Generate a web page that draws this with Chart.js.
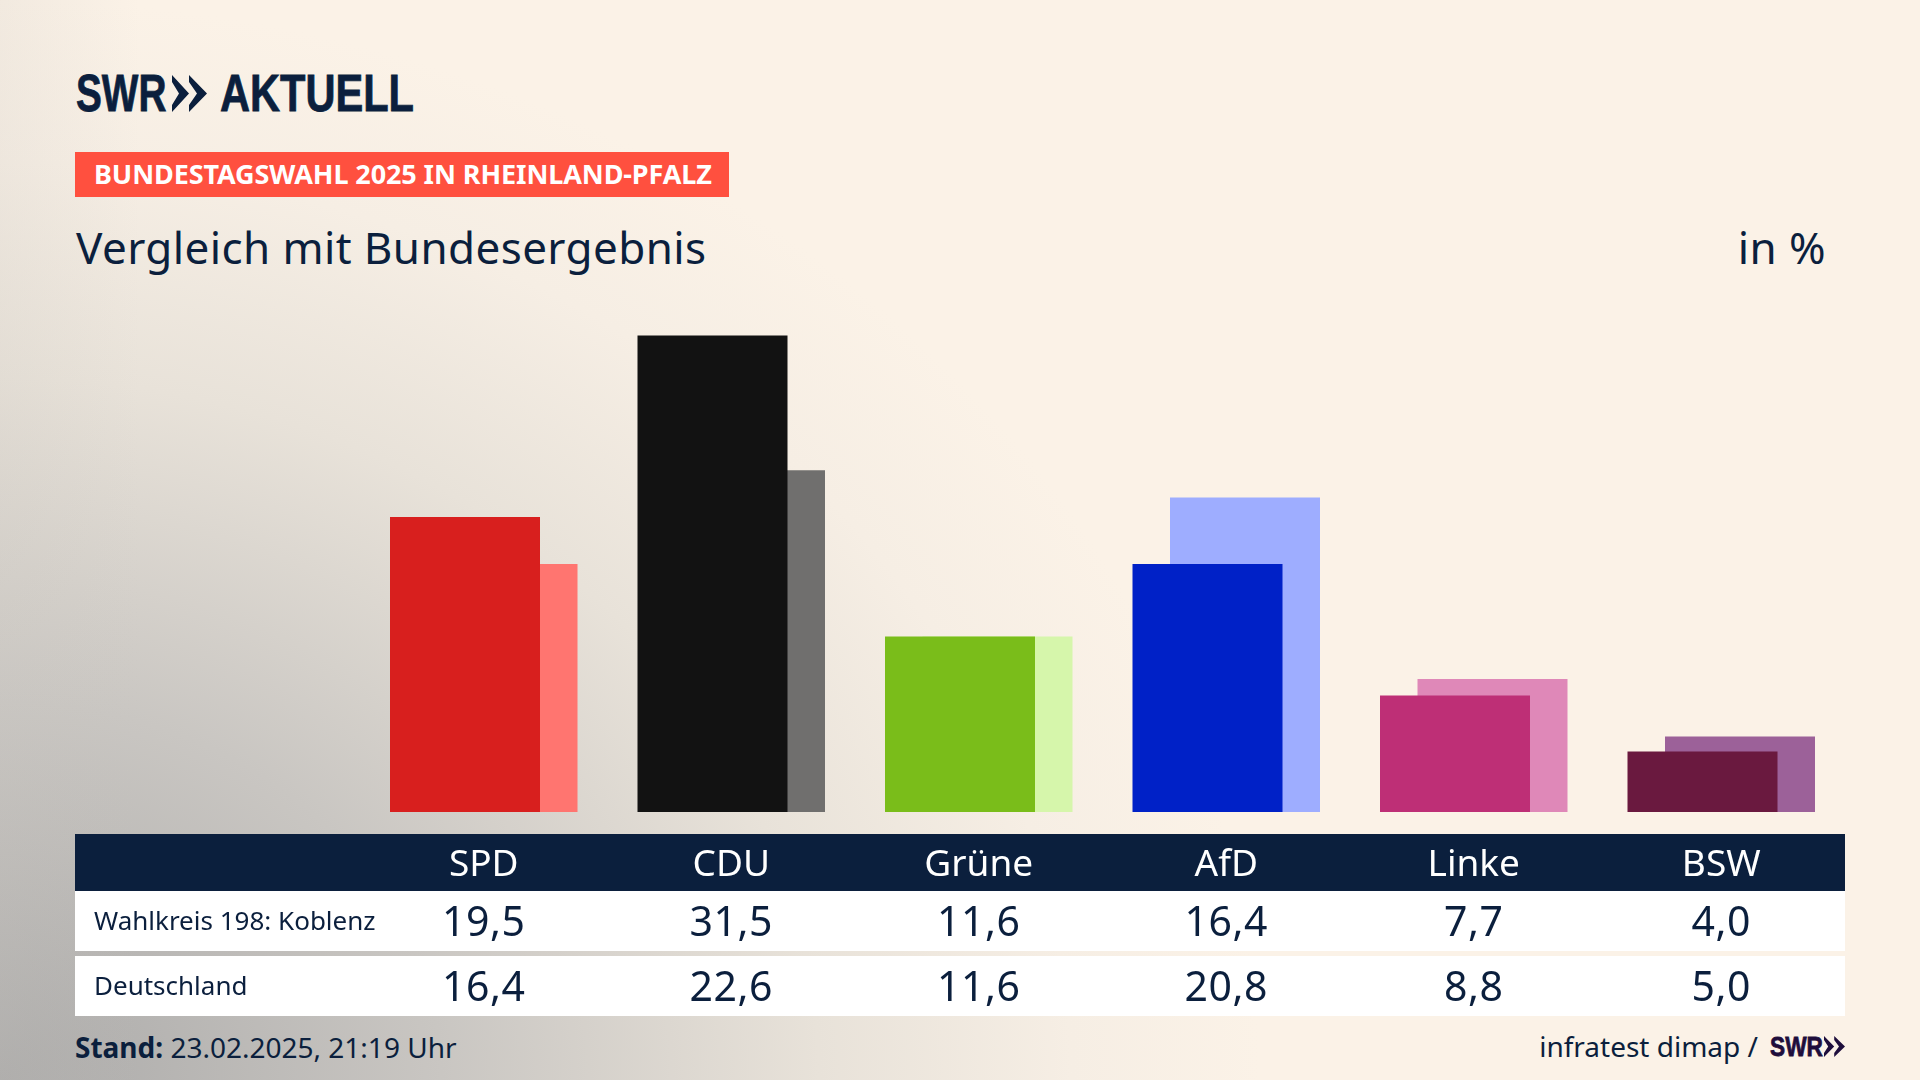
<!DOCTYPE html>
<html lang="de">
<head>
<meta charset="utf-8">
<title>Vergleich mit Bundesergebnis</title>
<script src="https://cdn.jsdelivr.net/npm/chart.js@4"></script>
<style>
  html, body { margin: 0; width: 1920px; height: 1080px; overflow: hidden; }
  body {
    position: relative;
    font-family: "Noto Sans", sans-serif;
    color: #0b1f3d;
    background:
      linear-gradient(90deg, rgba(200,196,190,.18) 0, rgba(251,242,231,0) 140px),
      radial-gradient(ellipse 1260px 1080px at 0 1080px, #abaaa9 0%, #c9c6c2 35%, #e8e2d9 65%, #f6eee4 85%, #fbf2e7 100%);
  }
  .t { position: absolute; white-space: nowrap; line-height: 1; }
  .logo { font-family: "Liberation Sans", sans-serif; font-weight: 700; transform-origin: 0 0; -webkit-text-stroke: .8px currentColor; }
  #band { position: absolute; left: 75px; top: 834px; width: 1770px; height: 57px; background: #0b1f3d; }
  .row { position: absolute; left: 75px; width: 1770px; height: 60px; background: #fff; }
  #tag { position: absolute; left: 75px; top: 152px; width: 654px; height: 45px; background: #ff503f; }
  canvas { position: absolute; left: 0; top: 0; }
</style>
</head>
<body>
<div id="band"></div>
<div class="row" style="top:891px"></div>
<div class="row" style="top:956px"></div>
<div id="tag"></div>

<div class="t logo" style="left:76px;top:68px;font-size:51px;transform:scaleX(.76)">SWR</div>
<svg style="position:absolute;left:172px;top:75px" width="35" height="37" viewBox="0 0 35 37">
  <path d="M0 0 L17 18.5 L0 37 L0 30 L7 18.5 L0 7 Z M17 0 L35 18.5 L17 37 L17 30 L25 18.5 L17 7 Z" fill="#0b1f3d"/>
</svg>
<div class="t logo" style="left:220px;top:68px;font-size:51px;transform:scaleX(.815)">AKTUELL</div>

<div class="t" style="left:94px;top:160px;font-size:27px;font-weight:700;letter-spacing:-.1px;color:#fff">BUNDESTAGSWAHL 2025 IN RHEINLAND-PFALZ</div>
<div class="t" style="left:76px;top:225px;font-size:44px;letter-spacing:.4px">Vergleich mit Bundesergebnis</div>
<div class="t" style="right:94px;top:225px;font-size:44px;letter-spacing:.4px">in %</div>

<div class="t" style="left:75px;top:1033px;font-size:28px"><b>Stand:</b> 23.02.2025, 21:19 Uhr</div>
<div class="t" style="right:162px;top:1032px;font-size:28px">infratest dimap /</div>
<div class="t logo" style="left:1770px;top:1033px;font-size:28px;color:#1e0e3c;transform:scaleX(.81)">SWR</div>
<svg style="position:absolute;left:1824px;top:1036px" width="21" height="21" viewBox="0 0 35 37" preserveAspectRatio="none">
  <path d="M0 0 L17 18.5 L0 37 L0 30 L7 18.5 L0 7 Z M17 0 L35 18.5 L17 37 L17 30 L25 18.5 L17 7 Z" fill="#1e0e3c"/>
</svg>

<canvas id="chart" width="1920" height="1080"></canvas>

<script>
const parties = ['SPD', 'CDU', 'Grüne', 'AfD', 'Linke', 'BSW'];
const koblenzLabel = 'Wahlkreis 198: Koblenz';
const koblenz = [19.5, 31.5, 11.6, 16.4, 7.7, 4.0];
const bundLabel = 'Deutschland';
const bund = [16.4, 22.6, 11.6, 20.8, 8.8, 5.0];
const koblenzColors = ['#d81f1e', '#121212', '#7abd1a', '#0021c7', '#be2f76', '#6a193f'];
const bundColors = ['#ff7570', '#706f6e', '#d6f6ab', '#9eadff', '#df88b8', '#9c6199'];

const chart = new Chart(document.querySelector('#chart'), {
  type: 'bar',
  data: {
    labels: parties,
    datasets: [
      { label: koblenzLabel, data: koblenz, backgroundColor: koblenzColors, borderWidth: 0 },
      { label: bundLabel, data: bund, backgroundColor: bundColors, borderWidth: 0 }
    ]
  },
  options: {
    responsive: false,
    animation: false,
    devicePixelRatio: 1,
    // bars are wider than their slot on purpose, so the pair overlaps
    categoryPercentage: 75 / 247.5,
    barPercentage: 4,
    layout: { padding: { left: 360, right: 75, top: 328, bottom: 197 } },
    plugins: { legend: { display: false }, tooltip: { enabled: false } },
    scales: {
      x: {
        grid: { display: false },
        border: { display: false },
        afterFit(scale) { scale.height = 71; },
        ticks: {
          color: '#ffffff',
          padding: 23,
          maxRotation: 0,
          autoSkip: false,
          font: { family: 'Noto Sans', size: 37 }
        }
      },
      y: { display: false, min: 0, max: 32 }
    }
  }
});

// table rows hang off the chart's own x scale
function addRow(name, values, top) {
  const label = document.createElement('div');
  label.className = 't';
  label.textContent = name;
  label.style.cssText = 'left:94px;font-size:26px;top:' + (top + 16) + 'px';
  document.body.appendChild(label);
  values.forEach(function (v, i) {
    const cell = document.createElement('div');
    cell.className = 't';
    cell.textContent = v.toFixed(1).replace('.', ',');
    const x = chart.scales.x.getPixelForValue(i);
    cell.style.cssText = 'font-size:41px;letter-spacing:.5px;transform:translateX(-50%);left:' + x + 'px;top:' + (top + 9) + 'px';
    document.body.appendChild(cell);
  });
}
addRow(koblenzLabel, koblenz, 891);
addRow(bundLabel, bund, 956);
</script>
</body>
</html>
